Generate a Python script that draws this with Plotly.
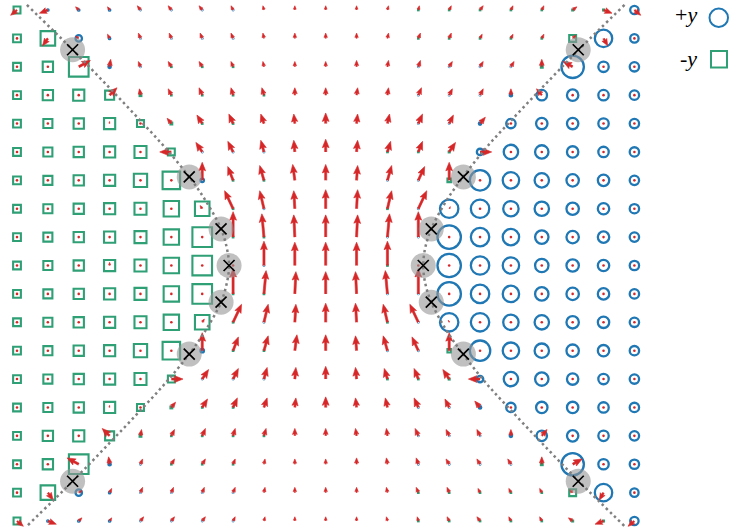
import math
import plotly.graph_objects as go

# ---------------- data ----------------
X_COLS = [-10, -9, -8, -7, -6, -5, -4, -3, -2, -1, 0, 1, 2, 3, 4, 5, 6, 7, 8, 9, 10]
Y_ROWS = [9, 8, 7, 6, 5, 4, 3, 2, 1, 0, -1, -2, -3, -4, -5, -6, -7, -8, -9]

# out-of-plane amplitude (+ -> +y circle, - -> -y square)
AMP = [
    [-10, 3, 3, 3, 2, 2, 2, 2, 0, 0, 0, 0, 0, -2, -2, -2, -2, -2, -3, -3, 10],
    [-11, -19, 8, 3, 2, 2, 2, 2, 0, 0, 0, 0, 0, -2, -2, -2, -2, -2, -10, 19, 10],
    [-11, -14, -25, 4, 2, -2, -2, -2, 0, 0, 0, 0, 0, 2, 2, 2, 2, -4, 24, 12, 11],
    [-11, -14, -15, -12.5, -4, -2, -2, -2, -2, 0, 0, 0, 0, 2, 2, 2, 4, 12, 13, 12, 11],
    [-11, -12.5, -14, -15, -10, -4, -2, -2, 0, 0, 0, 0, 0, 2, 2, 4, 11, 13, 13, 12, 11],
    [-11, -12.5, -14, -15, -16, -10, 2, 2, 2, 0, 0, 0, -2, -2, -3, 8, 16, 15, 13, 12, 11],
    [-11, -12.5, -14, -15, -17.5, -22.5, 5, -2, -2, 0, 0, 0, 2, 2, -6, 22, 18, 16, 14, 13, 11],
    [-11, -12.5, -14, -15, -16, -20, -19, -2, 2, 0, 0, 0, -2, 2, 20, 20, 17, 16, 14, 13, 11],
    [-11, -12.5, -14, -15, -16, -20, -25, -2, -2, 0, 0, 0, 2, 2, 25, 20, 18, 15, 14, 13, 11],
    [-11, -12.5, -14, -15, -16, -20, -25, 0, 2, 0, 0, 0, -2, 0, 25, 20, 18, 15, 14, 13, 11],
    [-11, -12.5, -14, -15, -16, -20, -25, -2, -2, 0, 0, 0, 2, 2, 25, 20, 18, 15, 14, 13, 11],
    [-11, -12.5, -14, -15, -16, -20, -19, -2, 2, 0, 0, 0, -2, 2, 20, 20, 17, 16, 14, 13, 11],
    [-11, -12.5, -14, -15, -17.5, -22.5, 5, -2, -2, 0, 0, 0, 2, 2, -6, 22, 18, 16, 14, 13, 11],
    [-11, -12.5, -14, -15, -16, -10, 2, 2, 2, 0, 0, 0, -2, -2, -3, 8, 16, 15, 13, 12, 11],
    [-11, -12.5, -14, -15, -10, -4, -2, -2, 0, 0, 0, 0, 0, 2, 2, 4, 11, 13, 13, 12, 11],
    [-11, -14, -15, -12.5, -4, -2, -2, -2, -2, 0, 0, 0, 0, 2, 2, 2, 4, 12, 13, 12, 11],
    [-11, -14, -25, 4, 2, -2, -2, -2, 0, 0, 0, 0, 0, 2, 2, 2, 2, -4, 24, 12, 11],
    [-11, -19, 8, 3, 2, 2, 2, 2, 0, 0, 0, 0, 0, -2, -2, -2, -2, -2, -10, 19, 10],
    [-10, 3, 3, 3, 2, 2, 2, 2, 0, 0, 0, 0, 0, -2, -2, -2, -2, -2, -3, -3, 10],
]

# in-plane field, horizontal component
U = [
    [-6, -8, -3, -2, -3, -3, -3, -2, -1, 0, 0, 0, 1, 1, 2, 3, 2, 2, 4, 8, 6],
    [0, -5, -3, -2, -2, -2, -2, -2, -1, 0, 0, 0, 1, 2, 2, 2, 2, 2, 3, 4, 0],
    [0, 0, 11, 1, -2, -3, -3, -2, -1, 0, 0, 0, 1, 2, 3, 3, 3, 0, -9, 0, 0],
    [0, 0, 0, 7, -1, -3, -3, -2, -2, 0, 0, 1, 1, 3, 3, 3, 0, -5, 0, 0, 0],
    [0, 0, 0, 0, 0, -4, -5, -4, -3, -1, 0, 1, 2, 4, 4, 5, 0, 0, 0, 0, 0],
    [0, 0, 0, 0, 0, -11, -6, -5, -3, -1, 0, 1, 3, 4, 6, 11, 0, 0, 0, 0, 0],
    [0, 0, 0, 0, 0, 0, 0, -5, -4, -2, 0, 1, 4, 6, 0, 0, 0, 0, 0, 0, 0],
    [0, 0, 0, 0, 0, 0, -2, -8, -4, -1, 0, 1, 4, 8, 1, 0, 0, 0, 0, 0, 0],
    [0, 0, 0, 0, 0, 0, 0, 0, -2, -1, 0, 1, 2, 0, 0, 0, 0, 0, 0, 0, 0],
    [0, 0, 0, 0, 0, 0, 0, 0, 0, 0, 0, 0, 0, 0, 0, 0, 0, 0, 0, 0, 0],
    [0, 0, 0, 0, 0, 0, 0, 0, 2, 1, 0, -1, -2, 0, 0, 0, 0, 0, 0, 0, 0],
    [0, 0, 0, 0, 0, 0, 2, 8, 4, 1, 0, -1, -4, -8, -1, 0, 0, 0, 0, 0, 0],
    [0, 0, 0, 0, 0, 0, 0, 5, 4, 2, 0, -1, -4, -6, 0, 0, 0, 0, 0, 0, 0],
    [0, 0, 0, 0, 0, 11, 6, 5, 3, 1, 0, -1, -3, -4, -6, -11, 0, 0, 0, 0, 0],
    [0, 0, 0, 0, 0, 4, 5, 4, 3, 1, 0, -1, -2, -4, -4, -5, 0, 0, 0, 0, 0],
    [0, 0, 0, -7, 1, 3, 3, 2, 2, 0, 0, -1, -1, -3, -3, -3, 0, 5, 0, 0, 0],
    [0, 0, -11, -1, 2, 3, 3, 2, 1, 0, 0, 0, -1, -2, -3, -3, -3, 0, 9, 0, 0],
    [0, 5, 3, 2, 2, 2, 2, 2, 1, 0, 0, 0, -1, -2, -2, -2, -2, -2, -3, -4, 0],
    [6, 8, 3, 2, 3, 3, 3, 2, 1, 0, 0, 0, -1, -1, -2, -3, -2, -2, -4, -8, -6],
]

# in-plane field, vertical component
V = [
    [-5, -3, 3, 3, 4, 4, 4, 4, 4, 4, 4, 4, 4, 4, 4, 4, 4, 4, 3, -3, -5],
    [1, -7, 2, 4, 5, 5, 5, 5, 5, 5, 5, 5, 5, 5, 5, 4, 4, 4, 3, -7, 1],
    [1, 1, 6, 7, 5, 5, 5, 5, 5, 5, 5, 6, 6, 6, 5, 5, 5, 7, 5, 1, 1],
    [1, 1, 1, 7, 6, 6, 7, 7, 7, 7, 7, 7, 7, 7, 6, 6, 6, 6, 1, 1, 1],
    [1, 1, 1, 2, 1, 5, 8, 9, 9, 9, 10, 9, 9, 9, 8, 6, 1, 1, 1, 1, 1],
    [1, 1, 1, 1, 1, 0, 9, 10, 11, 11, 12, 11, 10, 10, 9, 0, 1, 1, 1, 1, 1],
    [1, 1, 1, 1, 1, 1, 17, 13, 14, 15, 15, 14, 14, 13, 17, 1, 1, 1, 1, 1, 1],
    [1, 1, 1, 1, 1, 1, 3, 17, 17, 17, 18, 18, 17, 17, 2, 1, 1, 1, 1, 1, 1],
    [1, 1, 1, 1, 1, 1, 1, 24, 22, 21, 21, 21, 22, 24, 1, 1, 1, 1, 1, 1, 1],
    [1, 1, 1, 3, 1, 1, 1, 1, 23, 22, 22, 22, 23, 1, 1, 1, 1, 1, 1, 1, 1],
    [1, 1, 1, 1, 1, 1, 1, 24, 22, 21, 21, 21, 22, 24, 1, 1, 1, 1, 1, 1, 1],
    [1, 1, 1, 1, 1, 1, 3, 17, 17, 17, 18, 18, 17, 17, 2, 1, 1, 1, 1, 1, 1],
    [1, 1, 1, 1, 1, 1, 17, 13, 14, 15, 15, 14, 14, 13, 17, 1, 1, 1, 1, 1, 1],
    [1, 1, 1, 1, 1, 0, 9, 10, 11, 11, 12, 11, 10, 10, 9, 0, 1, 1, 1, 1, 1],
    [1, 1, 1, 2, 1, 5, 8, 9, 9, 9, 10, 9, 9, 9, 8, 6, 1, 1, 1, 1, 1],
    [1, 1, 1, 7, 6, 6, 7, 7, 7, 7, 7, 7, 7, 7, 6, 6, 6, 6, 1, 1, 1],
    [1, 1, 6, 7, 5, 5, 5, 5, 5, 5, 5, 6, 6, 6, 5, 5, 5, 7, 5, 1, 1],
    [1, -7, 2, 4, 5, 5, 5, 5, 5, 5, 5, 5, 5, 5, 5, 4, 4, 4, 3, -7, 1],
    [-5, -3, 3, 3, 4, 4, 4, 4, 4, 4, 4, 4, 4, 4, 4, 4, 4, 4, 3, -3, -5],
]

# singular points (x marks)
SING_X = [-8.2, -4.42, -3.39, -3.13, -3.39, -4.42, -8.2, 8.18, 4.46, 3.42, 3.16, 3.42, 4.46, 8.18]
SING_Y = [7.6, 3.12, 1.29, 0.0, -1.29, -3.12, -7.6, 7.6, 3.12, 1.29, 0.0, -1.29, -3.12, -7.6]

# dotted boundary curves
HYP_L_X = [-9.68, -8.2, -7.0, -6.0, -5.2, -4.42, -3.9, -3.39, -3.2, -3.13,
           -3.2, -3.39, -3.9, -4.42, -5.2, -6.0, -7.0, -8.2, -9.68]
HYP_R_X = [9.68, 8.2, 7.0, 6.0, 5.2, 4.45, 3.92, 3.42, 3.22, 3.16,
           3.22, 3.42, 3.92, 4.45, 5.2, 6.0, 7.0, 8.2, 9.68]
HYP_Y = [9.18, 7.6, 6.25, 5.1, 4.15, 3.12, 2.3, 1.29, 0.6, 0.0,
         -0.6, -1.29, -2.3, -3.12, -4.15, -5.1, -6.25, -7.6, -9.18]

LEGEND_LABELS = ["+<i>y</i>", "-<i>y</i>"]

# ---------------- styling / geometry ----------------
W, H = 730, 531
SX = 30.87   # px per x unit
SY = 28.39   # px per y unit
X0PX, Y0PX = 17.0, 10.0   # pixel of (x=-10, y=9)
XR = [-10 - X0PX / SX, -10 + (W - X0PX) / SX]
YR = [9 - (H - Y0PX) / SY, 9 + Y0PX / SY]
QSCALE = 1.06  # quiver length scale (px per unit of field)

RED = "#d62728"
BLUE = "#1f77b4"
GREEN = "#2f9f76"

fig = go.Figure()

# markers
cx, cy, cs = [], [], []
qx, qy, qs = [], [], []
for r, yv in enumerate(Y_ROWS):
    for c, xv in enumerate(X_COLS):
        a = AMP[r][c]
        if a > 0:
            cx.append(xv); cy.append(yv); cs.append(max(a - 1.6, 0.6))
        elif a < 0:
            qx.append(xv); qy.append(yv); qs.append(max(0.85 * (-a) - 1.6, 0.6))

fig.add_trace(go.Scatter(x=cx, y=cy, mode="markers", hoverinfo="skip",
                         marker=dict(symbol="circle", size=cs, color="white", opacity=1,
                                     line=dict(width=2.3, color=BLUE))))
fig.add_trace(go.Scatter(x=qx, y=qy, mode="markers", hoverinfo="skip",
                         marker=dict(symbol="square", size=qs, color="white", opacity=1,
                                     line=dict(width=2.1, color=GREEN))))

# arrows (quiver, pivot at tail)
SW, HW, HL, HAL = 2.1, 6.8, 8.5, 7.5
ax, ay = [], []
dx_, dy_ = [], []
for r, yv in enumerate(Y_ROWS):
    for c, xv in enumerate(X_COLS):
        u, v = U[r][c] * QSCALE, V[r][c] * QSCALE
        L = math.hypot(u, v)
        if L < 1.6:
            dx_.append(xv); dy_.append(yv)
            continue
        ca, sa = u / L, v / L
        k = 1.0
        Lp = L
        if L < HL + 2:
            k = L / (HL + 2)
            Lp = HL + 2
        pts = [(0, -SW / 2), (Lp - HAL, -SW / 2), (Lp - HL, -HW / 2), (Lp, 0),
               (Lp - HL, HW / 2), (Lp - HAL, SW / 2), (0, SW / 2)]
        for t, n in pts:
            t *= k; n *= k
            px = t * ca - n * sa
            py = t * sa + n * ca
            ax.append(xv + px / SX)
            ay.append(yv + py / SY)
        ax.append(None); ay.append(None)

fig.add_trace(go.Scatter(x=ax, y=ay, mode="lines", fill="toself", fillcolor=RED,
                         line=dict(width=0.6, color=RED), hoverinfo="skip"))
fig.add_trace(go.Scatter(x=dx_, y=dy_, mode="markers", hoverinfo="skip",
                         marker=dict(symbol="circle", size=2.6, color=RED, opacity=1)))

# singular points: grey disks
fig.add_trace(go.Scatter(x=SING_X, y=SING_Y, mode="markers", hoverinfo="skip",
                         marker=dict(symbol="circle", size=25, opacity=1,
                                     color="rgba(150,150,150,0.6)", line=dict(width=0))))
# dotted curves
for hx in (HYP_L_X, HYP_R_X):
    fig.add_trace(go.Scatter(x=hx, y=HYP_Y, mode="lines", hoverinfo="skip",
                             line=dict(color="#7f7f7f", width=2.5, dash="2.5px,3.2px",
                                       shape="spline", smoothing=1.0)))
# x marks
fig.add_trace(go.Scatter(x=SING_X, y=SING_Y, mode="markers", hoverinfo="skip",
                         marker=dict(symbol="x-thin", size=11, opacity=1,
                                     line=dict(width=1.7, color="black"))))

# legend (drawn manually to the right)
fig.add_annotation(x=699 / W, y=1 - 15 / H, xref="paper", yref="paper",
                   text=LEGEND_LABELS[0], showarrow=False, xanchor="right", yanchor="middle",
                   font=dict(family="Liberation Serif", size=22, color="black"))
fig.add_annotation(x=699 / W, y=1 - 58 / H, xref="paper", yref="paper",
                   text=LEGEND_LABELS[1], showarrow=False, xanchor="right", yanchor="middle",
                   font=dict(family="Liberation Serif", size=22, color="black"))
fig.add_shape(type="circle", xref="paper", yref="paper",
              x0=709.5 / W, x1=728 / W, y0=1 - 27 / H, y1=1 - 8.5 / H,
              line=dict(color=BLUE, width=2))
fig.add_shape(type="rect", xref="paper", yref="paper",
              x0=711 / W, x1=727 / W, y0=1 - 67.5 / H, y1=1 - 51 / H,
              line=dict(color=GREEN, width=2))

fig.update_layout(
    width=W, height=H, autosize=False,
    margin=dict(l=0, r=0, t=0, b=0),
    paper_bgcolor="white", plot_bgcolor="white",
    showlegend=False,
    xaxis=dict(range=XR, visible=False, showgrid=False, zeroline=False, fixedrange=True),
    yaxis=dict(range=YR, visible=False, showgrid=False, zeroline=False, fixedrange=True),
)

fig.write_html("out.html")
